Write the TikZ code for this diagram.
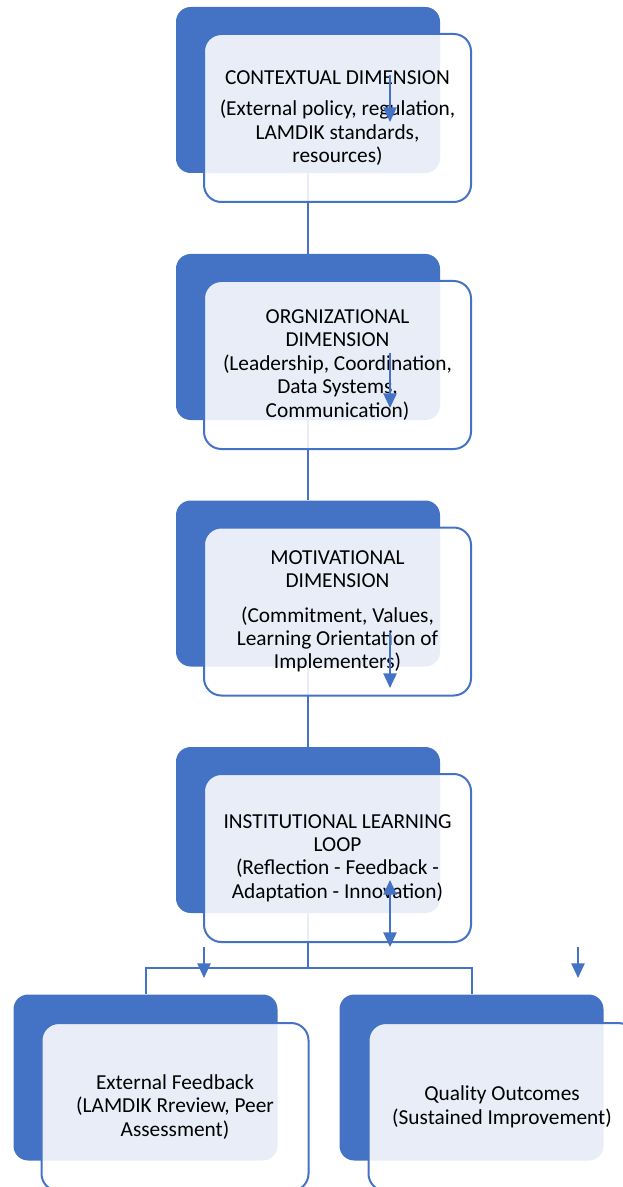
\documentclass[tikz,border=0pt]{standalone}
\usepackage{fontspec}
\setmainfont{Carlito}
\usetikzlibrary{arrows.meta}
\definecolor{accent}{HTML}{4472C4}

\begin{document}
\begin{tikzpicture}[x=0.75pt,y=-0.75pt]
    \useasboundingbox (0,0) rectangle (623,1187);
    \clip (0,0) rectangle (623,1187);

    % dark back boxes
    \begin{scope}[every node/.style={rectangle,rounded corners=11pt,fill=accent,
        minimum width=198pt,minimum height=124.5pt,inner sep=0pt}]
      \node (ctxback) at (308,90) {};
      \node (orgback) at (308,337) {};
      \node (motback) at (308,583.5) {};
      \node (loopback) at (308,830) {};
      \node (extback) at (145.5,1077.5) {};
      \node (qualback) at (471.5,1077.5) {};
    \end{scope}

    % links between the stages
    \begin{scope}[every path/.style={draw=accent,line width=1.5pt}]
      \coordinate (split) at (308,968);
      \path (ctxback.south) -- (orgback.north);
      \path (orgback.south) -- (motback.north);
      \path (motback.south) -- (loopback.north);
      \path (loopback.south) -- (split);
      \path (split) -| (extback.north);
      \path (split) -| (qualback.north);
    \end{scope}

    % front boxes with the texts
    \begin{scope}[every node/.style={rectangle,rounded corners=13pt,draw=accent,
        line width=1.5pt,fill=white,fill opacity=0.88,text opacity=1,
        minimum width=200.25pt,minimum height=126pt,inner sep=0pt,align=center,
        font=\fontsize{16}{17.6}\selectfont}]
      \node (ctx) at (337.5,118) {CONTEXTUAL DIMENSION\\[6pt]
        (External policy, regulation,\\ LAMDIK standards,\\ resources)};
      \node (org) at (337.5,365) {ORGNIZATIONAL\\ DIMENSION\\
        (Leadership, Coordination,\\ Data Systems,\\ Communication)};
      \node (mot) at (337.5,611.5) {MOTIVATIONAL\\ DIMENSION\\[8pt]
        (Commitment, Values,\\ Learning Orientation of\\ Implementers)};
      \node (loop) at (337.5,858) {INSTITUTIONAL LEARNING\\ LOOP\\
        (Reflection - Feedback -\\ Adaptation - Innovation)};
      \node (ext) at (175,1107) {External Feedback\\
        (LAMDIK Rreview, Peer\\ Assessment)};
      \node (qual) at (502,1107) {Quality Outcomes\\ (Sustained Improvement)};
    \end{scope}

    % small arrows
    \begin{scope}[every path/.style={draw=accent,line width=1.1pt},
        >={Triangle[width=10pt,length=11pt]}]
      \coordinate (a1) at (390,75);  \coordinate (b1) at (390,122);
      \coordinate (a2) at (390,353); \coordinate (b2) at (390,408);
      \coordinate (a3) at (390,633); \coordinate (b3) at (390,688);
      \coordinate (a4) at (390,880); \coordinate (b4) at (390,947);
      \coordinate (a5) at (204,947); \coordinate (b5) at (204,978);
      \coordinate (a6) at (578,947); \coordinate (b6) at (578,978);
      \path [->] (a1) -- (b1);
      \path [->] (a2) -- (b2);
      \path [->] (a3) -- (b3);
      \path [<->] (a4) -- (b4);
      \path [->] (a5) -- (b5);
      \path [->] (a6) -- (b6);
    \end{scope}
  \end{tikzpicture}
\end{document}
